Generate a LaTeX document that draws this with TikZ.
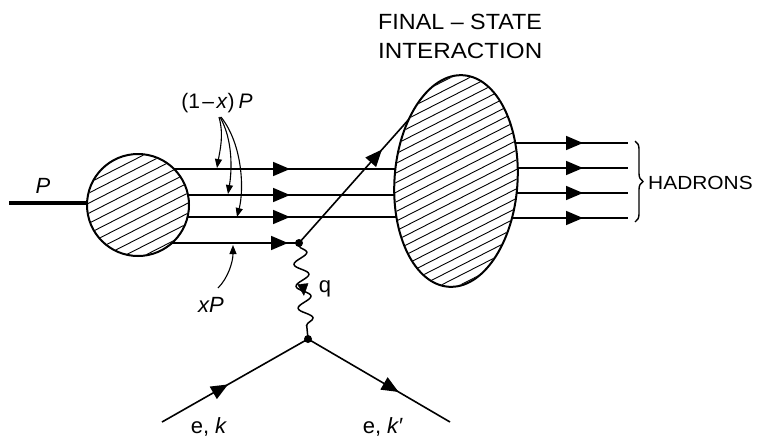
\documentclass[tikz,border=0pt]{standalone}
\usepackage{fontspec}
\setmainfont{Liberation Sans}
\usetikzlibrary{arrows.meta,decorations.markings,decorations.pathmorphing,decorations.pathreplacing,shapes.geometric}
\begin{document}
\begin{tikzpicture}[x=1pt,y=-1pt,
  fline/.style={line width=1.6pt},
  marr/.style={postaction={decorate,decoration={markings,mark=at position #1 with {\arrow{Triangle[length=17pt,width=14pt]}}}}},
  parr/.style={postaction={decorate,decoration={markings,mark=at position #1 with {\arrow{Triangle[length=12pt,width=11pt]}}}}},
  lbl/.style={font=\fontsize{22}{26}\selectfont, inner sep=0pt},
  smallarr/.style={line width=1.1pt,-{Triangle[length=9pt,width=7pt]}},
  hatch/.style={line width=0.9pt},
  blobline/.style={line width=2pt},
]
\useasboundingbox (0,0) rectangle (758,437);

% coordinates
\coordinate (pin) at (9,203);
\coordinate (v1) at (299,243);
\coordinate (v2) at (308,339);
\coordinate (ein) at (162,422);
\coordinate (eout) at (450,422);
\coordinate (qend) at (410,118);
\foreach \y/\n in {169/1,195/2,217/3}{
  \coordinate (qa\n) at (150,\y);
  \coordinate (qb\n) at (420,\y);
}
\coordinate (qa4) at (150,243);
\foreach \y/\n in {143/1,168/2,193/3,218/4}{
  \coordinate (ha\n) at (480,\y);
  \coordinate (hb\n) at (628,\y);
}

% incoming proton
\draw[line width=4.8pt] (pin) -- (137,203);

% quark lines
\foreach \n in {1,2,3}{\draw[fline, marr=140pt] (qa\n) -- (qb\n);}
\draw[fline, marr=138pt] (qa4) -- (v1);
\draw[fline, marr=125pt] (v1) -- (qend);

% hadron lines
\foreach \n in {1,2,3,4}{\draw[fline, marr=103pt] (ha\n) -- (hb\n);}

% proton blob
\node[circle, fill=white, minimum size=102pt, inner sep=0pt] (blob) at (138,205) {};
\begin{scope}
  \clip (138,205) circle (50);
  \begin{scope}[shift={(138,205)}, rotate=27]
    \foreach \i in {-6,...,6}{
      \draw[hatch] (-70,\i*9+3) -- (70,\i*9+3);
    }
  \end{scope}
\end{scope}
\draw[blobline] (138,205) circle (51);

% final-state blob
\node[ellipse, fill=white, minimum width=123pt, minimum height=212pt, inner sep=0pt, rotate=-4] (fsi) at (456,181) {};
\begin{scope}
  \clip[rotate around={-4:(456,181)}] (456,181) ellipse [x radius=60.5, y radius=105];
  \begin{scope}[shift={(456,181)}, rotate=27]
    \foreach \i in {-14,...,14}{
      \draw[hatch] (-130,\i*8.6) -- (130,\i*8.6);
    }
  \end{scope}
\end{scope}
\draw[blobline, rotate around={-4:(456,181)}] (456,181) ellipse [x radius=61.5, y radius=106];

% photon
\draw[line width=1.5pt, decorate, decoration={snake, amplitude=7pt, segment length=22pt, pre length=3pt, post length=3pt}] (v1) -- (v2);
\path[parr=0.55] (v1) -- (v2);

% electron lines
\draw[fline, marr=76pt] (ein) -- (v2);
\draw[fline, marr=105pt] (v2) -- (eout);

% vertices
\fill (v1) circle (4);
\fill (v2) circle (4);

% brace
\draw[line width=1.4pt, decorate, decoration={brace, amplitude=8pt}] (635,141) -- (635,222);

% labels
\node[lbl] (plab) at (43,186) {\textit{P}};
\node[lbl, font=\fontsize{21}{24}\selectfont] (onemx) at (217,103) {(1\hspace{2.5pt}–\hspace{2.5pt}\textit{x})\hspace{4pt}\textit{P}};
\node[lbl] (xplab) at (211,305) {\textit{xP}};
\node[lbl] (qlab) at (325,289) {q};
\node[lbl, anchor=base] (ek) at (209,433) {e,\hspace{6pt}\textit{k}};
\node[lbl, anchor=base] (ekp) at (383,433) {e,\hspace{6pt}\textit{k}′};
\node[lbl, anchor=base west, xscale=1.06] (fs1) at (378,29) {FINAL – STATE};
\node[lbl, anchor=base west, xscale=1.10] (fs2) at (378,58) {INTERACTION};
\node[font=\fontsize{19}{22}\selectfont, inner sep=0pt, anchor=west, xscale=1.10] (had) at (648,183) {HADRONS};

% label arrows
\draw[smallarr] (219,117) .. controls (224,135) and (220,150) .. (217,168);
\draw[smallarr] (220,117) .. controls (233,140) and (232,170) .. (228,194);
\draw[smallarr] (221,117) .. controls (243,145) and (244,190) .. (237,217);
\draw[smallarr] (218,288) .. controls (228,278) and (233,262) .. (233,245);
\end{tikzpicture}
\end{document}
